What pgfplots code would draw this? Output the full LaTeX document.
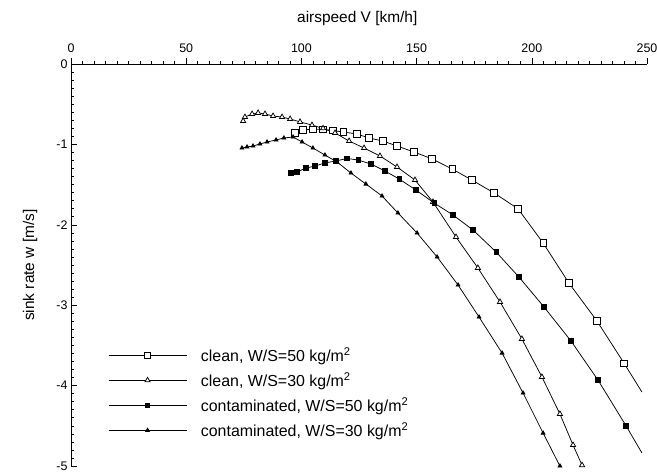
\documentclass[border=0pt]{standalone}
\usepackage{pgfplots}
\pgfplotsset{compat=1.18}
\usepackage{fontspec}
\setmainfont{Liberation Sans}
\begin{document}
\begin{tikzpicture}
\useasboundingbox (-71bp,-6bp) rectangle (586bp,466bp);
\begin{axis}[
  at={(0,0)}, anchor=south west,
  scale only axis, width=576bp, height=402bp,
  xmin=0, xmax=250, ymin=-5, ymax=0,
  axis x line=top, axis y line=left,
  axis line style={-, line width=0.9pt},
  xtick={0,50,...,250}, minor x tick num=9,
  ytick={-5,-4,...,0}, minor y tick num=9,
  x tick style={black, line width=0.6pt},
  y tick style={black, line width=0.6pt},
  major tick length=6bp, minor tick length=3bp,
  xtick align=outside, ytick align=inside,
  /pgf/number format/assume math mode=true,
  tick label style={font=\fontsize{12.5}{14}\selectfont},
  xticklabel style={yshift=2bp},
  label style={font=\fontsize{15.5}{18}\selectfont},
  xlabel={airspeed V [km/h]},
  ylabel={sink rate w [m/s]},
  xlabel style={at={(axis description cs:0.497,1.114)}, anchor=center},
  ylabel style={at={(axis description cs:-0.071,0.5)}, anchor=center},
  clip=true,
  every axis plot/.append style={black, line width=0.75pt},
  legend style={at={(axis description cs:0.059,0.305)}, anchor=north west,
    draw=none, fill=none, font=\fontsize{16}{18}\selectfont,
    row sep=5.5bp, legend cell align=left,
    /tikz/every odd column/.append style={column sep=12bp}},
  legend image code/.code={%
    \draw[#1, mark repeat=2, mark phase=2] plot coordinates {(0bp,0bp) (39bp,0bp) (78bp,0bp)};},
]
% clean W/S=50
\addplot[mark=square*, mark options={fill=white, solid}, mark size=3.2bp] coordinates {
(97.2,-0.858) (100.7,-0.82) (105.0,-0.81) (109.4,-0.815) (113.7,-0.827)
(118.1,-0.846) (124.1,-0.87) (129.3,-0.92) (135.4,-0.958) (141.5,-1.02)
(148.9,-1.095) (156.7,-1.18) (165.4,-1.306) (174.0,-1.443) (183.6,-1.604)
(194.0,-1.80) (204.9,-2.226) (216.1,-2.724) (228.3,-3.197) (240.0,-3.72)
};
\addlegendentry{clean, W/S=50 kg/m\textsuperscript{2}}
% clean W/S=30
\addplot[mark=triangle*, mark options={fill=white, solid}, mark size=3bp] coordinates {
(74.7,-0.709) (75.5,-0.66) (78.6,-0.622) (81.2,-0.609) (84.2,-0.622)
(87.7,-0.647) (91.6,-0.66) (95.1,-0.684) (99.4,-0.72) (104.6,-0.76)
(109.4,-0.80) (114.6,-0.858) (120.7,-0.958) (127.2,-1.045) (134.1,-1.144)
(141.5,-1.281) (149.3,-1.443) (157.1,-1.716) (167.1,-2.152) (176.6,-2.537)
(186.2,-2.96) (195.7,-3.42) (204.4,-3.893) (212.2,-4.353) (217.9,-4.739)
(221.8,-4.99)
};
\addlegendentry{clean, W/S=30 kg/m\textsuperscript{2}}
% contaminated W/S=50
\addplot[mark=square*, mark options={fill=black, solid}, mark size=2.2bp] coordinates {
(95.5,-1.356) (98.1,-1.343) (102.0,-1.294) (105.9,-1.269) (110.2,-1.231)
(115.0,-1.206) (119.8,-1.175) (124.6,-1.194) (130.2,-1.244) (136.3,-1.331)
(142.4,-1.43) (149.7,-1.567) (157.6,-1.729) (165.8,-1.878) (174.5,-2.065)
(184.5,-2.338) (194.4,-2.649) (205.3,-3.022) (217.0,-3.445) (228.7,-3.93)
(240.9,-4.50)
};
\addlegendentry{contaminated, W/S=50 kg/m\textsuperscript{2}}
% contaminated W/S=30
\addplot[mark=triangle*, mark options={fill=black, solid}, mark size=2.2bp] coordinates {
(74.2,-1.045) (76.4,-1.032) (79.0,-1.02) (82.0,-0.995) (85.1,-0.97)
(89.0,-0.945) (92.4,-0.92) (96.4,-0.908) (100.3,-0.97) (105.0,-1.045)
(110.2,-1.132) (115.5,-1.219) (121.5,-1.356) (128.0,-1.493) (135.0,-1.642)
(141.9,-1.853) (150.2,-2.102) (158.9,-2.40) (168.0,-2.749) (177.1,-3.147)
(187.1,-3.595) (196.2,-4.092) (204.9,-4.59) (212.2,-5.0)
};
\addlegendentry{contaminated, W/S=30 kg/m\textsuperscript{2}}
% line continuations beyond last marks
\addplot[forget plot, mark=none] coordinates {(240.0,-3.72) (247.8,-4.08)};
\addplot[forget plot, mark=none] coordinates {(240.9,-4.50) (247.8,-4.838)};
\addplot[forget plot, mark=none] coordinates {(212.2,-5.0) (213.5,-5.1)};
\end{axis}
\end{tikzpicture}
\end{document}
